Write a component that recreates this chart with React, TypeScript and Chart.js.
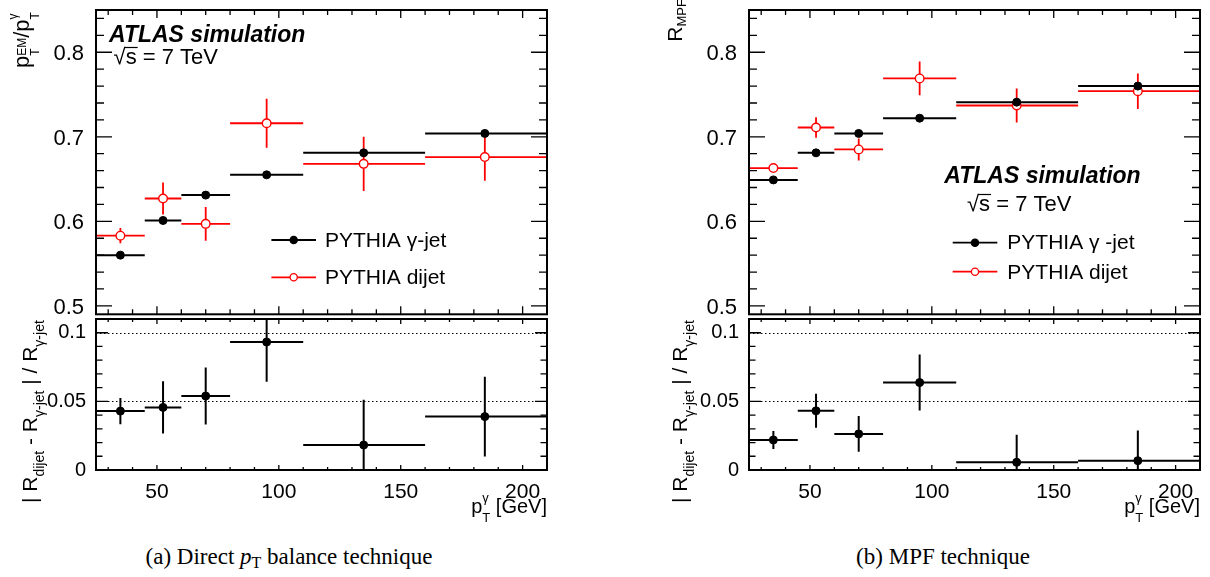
import React, { useEffect, useRef } from "react";
import { Chart, registerables } from "chart.js";

Chart.register(...registerables);

const FONT = "'Liberation Sans', Arial, Helvetica, sans-serif";

// ---------- data ----------
const binEdges = [25, 45, 60, 80, 110, 160, 210];
const xCenters = [35, 52.5, 70, 95, 134.8, 184.5];

const ptGammaJet = [0.56, 0.601, 0.631, 0.655, 0.681, 0.704];
const ptGammaJetErr = [0.002, 0.002, 0.002, 0.002, 0.002, 0.002];
const ptDijet = [0.583, 0.627, 0.597, 0.716, 0.668, 0.676];
const ptDijetErr = [0.009, 0.019, 0.02, 0.029, 0.032, 0.028];
const ptRatio = [0.0429, 0.0456, 0.0539, 0.0932, 0.0182, 0.0389];
const ptRatioErr = [0.0095, 0.019, 0.0207, 0.029, 0.033, 0.029];

const mpfGammaJet = [0.649, 0.681, 0.704, 0.722, 0.741, 0.76];
const mpfGammaJetErr = [0.002, 0.002, 0.002, 0.002, 0.002, 0.002];
const mpfDijet = [0.663, 0.711, 0.685, 0.769, 0.737, 0.754];
const mpfDijetErr = [0.004, 0.012, 0.013, 0.02, 0.02, 0.021];
const mpfRatio = [0.0219, 0.0431, 0.0263, 0.0637, 0.0056, 0.0068];
const mpfRatioErr = [0.0066, 0.0124, 0.013, 0.0204, 0.02, 0.022];

const xTickLabels = [50, 100, 150, 200];
const topYTickLabels = [0.5, 0.6, 0.7, 0.8];
const bottomYTickLabels = [0, 0.05, 0.1];
const ratioRefLines = [0.05, 0.1];

const labelGammaJetA = "PYTHIA γ-jet";
const labelGammaJetB = "PYTHIA γ -jet";
const labelDijet = "PYTHIA dijet";

// ---------- helpers ----------
type Part = { t: string; s: number; dy?: number; keep?: boolean; style?: string };

function richWidth(ctx: CanvasRenderingContext2D, parts: Part[]) {
  let w = 0;
  let kept = 0;
  for (const p of parts) {
    ctx.font = `${p.style ?? ""} ${p.s}px ${FONT}`;
    const pw = ctx.measureText(p.t).width;
    if (p.keep) kept = pw;
    else {
      w += Math.max(pw, kept);
      kept = 0;
    }
  }
  return w;
}

function drawRich(
  ctx: CanvasRenderingContext2D,
  parts: Part[],
  x: number,
  y: number,
  rotate = false,
  align: "left" | "right" = "left"
) {
  ctx.save();
  ctx.translate(x, y);
  if (rotate) ctx.rotate(-Math.PI / 2);
  const w = richWidth(ctx, parts);
  let cx = align === "right" ? -w : 0;
  let kept = 0;
  ctx.textAlign = "left";
  ctx.textBaseline = "alphabetic";
  ctx.fillStyle = "#000";
  for (const p of parts) {
    ctx.font = `${p.style ?? ""} ${p.s}px ${FONT}`;
    const pw = ctx.measureText(p.t).width;
    ctx.fillText(p.t, cx, p.dy ?? 0);
    if (p.keep) kept = pw;
    else {
      cx += Math.max(pw, kept);
      kept = 0;
    }
  }
  ctx.restore();
}

function drawAtlas(ctx: CanvasRenderingContext2D, x: number, y: number, sx: number, sy: number) {
  ctx.save();
  ctx.fillStyle = "#000";
  ctx.textAlign = "left";
  ctx.textBaseline = "alphabetic";
  ctx.font = `italic bold 23px ${FONT}`;
  ctx.fillText("ATLAS simulation", x, y);
  ctx.font = `22px ${FONT}`;
  ctx.fillText("√", sx, sy);
  const w1 = ctx.measureText("√").width;
  ctx.fillText("s = 7 TeV", sx + w1, sy);
  const ws = ctx.measureText("s").width;
  ctx.strokeStyle = "#000";
  ctx.lineWidth = 1.2;
  ctx.beginPath();
  ctx.moveTo(sx + w1 - 1, sy - 16.5);
  ctx.lineTo(sx + w1 + ws + 1, sy - 16.5);
  ctx.stroke();
  ctx.restore();
}

function drawLegend(
  ctx: CanvasRenderingContext2D,
  chart: Chart,
  x0: number,
  x1: number,
  ys: number[],
  textX: number,
  textYs: number[]
) {
  chart.data.datasets.forEach((ds: any, i: number) => {
    const y = ys[i];
    ctx.save();
    ctx.strokeStyle = ds.pointBorderColor;
    ctx.lineWidth = 1.8;
    ctx.beginPath();
    ctx.moveTo(x0, y);
    ctx.lineTo(x1, y);
    ctx.stroke();
    ctx.beginPath();
    ctx.arc((x0 + x1) / 2, y, 3.6, 0, Math.PI * 2);
    ctx.fillStyle = ds.pointBackgroundColor;
    ctx.fill();
    ctx.lineWidth = 1.3;
    ctx.stroke();
    ctx.fillStyle = "#000";
    ctx.font = `21px ${FONT}`;
    ctx.textAlign = "left";
    ctx.textBaseline = "alphabetic";
    ctx.fillText(ds.label, textX, textYs[i]);
    ctx.restore();
  });
}

// ---------- panel specs ----------
interface Spec {
  x: number;
  y: number;
  w: number;
  h: number;
  area: { left: number; top: number; right: number; bottom: number };
  kind: "top" | "bottom";
  yMin: number;
  yMax: number;
  yTicks: number[];
  yMajor: number;
  yMinor: number;
  yLen: [number, number];
  xLen: [number, number];
  labelFont: number;
  labelPad: number;
  labelOffset: number;
  refLines: number[];
  datasets: any[];
  decorate: (ctx: CanvasRenderingContext2D, chart: Chart) => void;
}

function gjSet(label: string, vals: number[], errs: number[]) {
  return {
    label,
    data: xCenters.map((x, i) => ({ x, y: vals[i] })),
    errY: errs,
    errColor: "#000",
    errWidth: 2,
    pointRadius: 4,
    pointBorderWidth: 1,
    pointBackgroundColor: "#000",
    pointBorderColor: "#000",
    borderColor: "#000",
    backgroundColor: "#000",
    showLine: false,
  };
}

function djSet(label: string, vals: number[], errs: number[]) {
  return {
    label,
    data: xCenters.map((x, i) => ({ x, y: vals[i] })),
    errY: errs,
    errColor: "#ff0000",
    errWidth: 1.8,
    pointRadius: 4.3,
    pointBorderWidth: 1.4,
    pointBackgroundColor: "#ffffff",
    pointBorderColor: "#ff0000",
    borderColor: "#ff0000",
    backgroundColor: "#ffffff",
    showLine: false,
  };
}

const ratioTitle: Part[] = [
  { t: "| R", s: 21 },
  { t: "dijet", s: 14, dy: 7 },
  { t: " - R", s: 21 },
  { t: "γ-jet", s: 14, dy: 7 },
  { t: " | / R", s: 21 },
  { t: "γ-jet", s: 14, dy: 7 },
];

const xTitle: Part[] = [
  { t: "p", s: 20 },
  { t: "T", s: 13, dy: 9, keep: true },
  { t: "γ", s: 13, dy: -11 },
  { t: " [GeV]", s: 20 },
];

const specs: Spec[] = [
  {
    x: 0, y: 0, w: 560, h: 320,
    area: { left: 96, top: 10, right: 547, bottom: 319 },
    kind: "top",
    yMin: 0.49, yMax: 0.85, yTicks: topYTickLabels, yMajor: 0.1, yMinor: 0.02,
    yLen: [16, 8], xLen: [8, 5], labelFont: 22, labelPad: 4, labelOffset: 2,
    refLines: [],
    datasets: [gjSet(labelGammaJetA, ptGammaJet, ptGammaJetErr), djSet(labelDijet, ptDijet, ptDijetErr)],
    decorate: (ctx, chart) => {
      drawAtlas(ctx, 109, 41.7, 113.6, 64);
      drawLegend(ctx, chart, 271.4, 316, [240, 277.3], 325, [247, 284]);
      drawRich(
        ctx,
        [
          { t: "p", s: 22 },
          { t: "T", s: 12, dy: 10, keep: true },
          { t: "EM", s: 12, dy: -3 },
          { t: "/", s: 22 },
          { t: "p", s: 22 },
          { t: "T", s: 12, dy: 10, keep: true },
          { t: "γ", s: 12, dy: -12 },
        ],
        29, 68, true
      );
    },
  },
  {
    x: 0, y: 300, w: 560, h: 230,
    area: { left: 96, top: 19, right: 547, bottom: 170 },
    kind: "bottom",
    yMin: 0, yMax: 0.11, yTicks: bottomYTickLabels, yMajor: 0.05, yMinor: 0.01,
    yLen: [12, 6.5], xLen: [5, 3], labelFont: 20, labelPad: 2, labelOffset: 0,
    refLines: ratioRefLines,
    datasets: [gjSet("ratio", ptRatio, ptRatioErr)],
    decorate: (ctx) => {
      drawRich(ctx, ratioTitle, 36.5, 203, true);
      drawRich(ctx, xTitle, 547, 213, false, "right");
    },
  },
  {
    x: 640, y: 0, w: 570, h: 320,
    area: { left: 109, top: 10, right: 560, bottom: 319 },
    kind: "top",
    yMin: 0.49, yMax: 0.85, yTicks: topYTickLabels, yMajor: 0.1, yMinor: 0.02,
    yLen: [16, 8], xLen: [8, 5], labelFont: 22, labelPad: 4, labelOffset: 2,
    refLines: [],
    datasets: [gjSet(labelGammaJetB, mpfGammaJet, mpfGammaJetErr), djSet(labelDijet, mpfDijet, mpfDijetErr)],
    decorate: (ctx, chart) => {
      drawAtlas(ctx, 304.3, 183.3, 327, 211);
      drawLegend(ctx, chart, 312.7, 357.3, [242.7, 271.7], 367.3, [248.5, 278.8]);
      drawRich(
        ctx,
        [
          { t: "R", s: 21 },
          { t: "MPF", s: 13, dy: 4 },
        ],
        41.7, 41.7, true
      );
    },
  },
  {
    x: 640, y: 300, w: 570, h: 230,
    area: { left: 109, top: 19, right: 560, bottom: 170 },
    kind: "bottom",
    yMin: 0, yMax: 0.11, yTicks: bottomYTickLabels, yMajor: 0.05, yMinor: 0.01,
    yLen: [12, 6.5], xLen: [5, 3], labelFont: 20, labelPad: 2, labelOffset: 0,
    refLines: ratioRefLines,
    datasets: [gjSet("ratio", mpfRatio, mpfRatioErr)],
    decorate: (ctx) => {
      drawRich(ctx, ratioTitle, 47, 203, true);
      drawRich(ctx, xTitle, 560, 213, false, "right");
    },
  },
];

// ---------- plugin ----------
function rootPlugin(spec: Spec) {
  return {
    id: "rootFrame",
    beforeDatasetsDraw(chart: any) {
      const ctx: CanvasRenderingContext2D = chart.ctx;
      const { left, right, top, bottom } = chart.chartArea;
      const xs = chart.scales.x;
      const ys = chart.scales.y;
      ctx.save();
      ctx.beginPath();
      ctx.rect(left, top, right - left, bottom - top);
      ctx.clip();
      // dotted reference lines
      ctx.strokeStyle = "#000";
      ctx.lineWidth = 1;
      ctx.setLineDash([1.5, 2.5]);
      for (const v of spec.refLines) {
        const py = Math.round(ys.getPixelForValue(v)) + 0.5;
        ctx.beginPath();
        ctx.moveTo(left, py);
        ctx.lineTo(right, py);
        ctx.stroke();
      }
      ctx.setLineDash([]);
      // error bars (draw dijet first, gamma-jet on top)
      const dss = chart.data.datasets.slice().reverse();
      for (const ds of dss) {
        ctx.strokeStyle = ds.errColor;
        ctx.lineWidth = ds.errWidth;
        ds.data.forEach((pt: any, i: number) => {
          const px = xs.getPixelForValue(pt.x);
          const py = ys.getPixelForValue(pt.y);
          ctx.beginPath();
          ctx.moveTo(xs.getPixelForValue(binEdges[i]), py);
          ctx.lineTo(xs.getPixelForValue(binEdges[i + 1]), py);
          ctx.moveTo(px, ys.getPixelForValue(pt.y - ds.errY[i]));
          ctx.lineTo(px, ys.getPixelForValue(pt.y + ds.errY[i]));
          ctx.stroke();
        });
      }
      ctx.restore();
    },
    afterDatasetsDraw(chart: any) {
      const ctx: CanvasRenderingContext2D = chart.ctx;
      const { left, right, top, bottom } = chart.chartArea;
      const xs = chart.scales.x;
      const ys = chart.scales.y;
      ctx.save();
      ctx.strokeStyle = "#000";
      // ticks
      ctx.lineWidth = 1.3;
      const k0 = Math.ceil(spec.yMin / spec.yMinor - 1e-6);
      const k1 = Math.floor(spec.yMax / spec.yMinor + 1e-6);
      for (let k = k0; k <= k1; k++) {
        const v = k * spec.yMinor;
        const r = v / spec.yMajor;
        const major = Math.abs(r - Math.round(r)) < 1e-6;
        const len = major ? spec.yLen[0] : spec.yLen[1];
        const py = ys.getPixelForValue(v);
        if (py < top + 1 || py > bottom - 1) continue;
        ctx.beginPath();
        ctx.moveTo(left, py);
        ctx.lineTo(left + len, py);
        ctx.moveTo(right, py);
        ctx.lineTo(right - len, py);
        ctx.stroke();
      }
      for (let v = 30; v <= 200; v += 10) {
        const major = v % 50 === 0;
        const len = major ? spec.xLen[0] : spec.xLen[1];
        const px = xs.getPixelForValue(v);
        ctx.beginPath();
        ctx.moveTo(px, bottom);
        ctx.lineTo(px, bottom - len);
        ctx.moveTo(px, top);
        ctx.lineTo(px, top + len);
        ctx.stroke();
      }
      // frame
      ctx.lineWidth = 2;
      ctx.strokeRect(left, top, right - left, bottom - top);
      ctx.restore();
      ctx.save();
      spec.decorate(ctx, chart);
      ctx.restore();
    },
  };
}

function buildConfig(spec: Spec): any {
  const { area, w, h } = spec;
  const isBottom = spec.kind === "bottom";
  return {
    type: "scatter",
    data: { datasets: spec.datasets },
    plugins: [rootPlugin(spec)],
    options: {
      responsive: false,
      maintainAspectRatio: false,
      animation: false,
      events: [],
      layout: {
        padding: {
          left: 0,
          top: area.top,
          right: w - area.right,
          bottom: isBottom ? 0 : h - area.bottom,
        },
      },
      plugins: {
        legend: { display: false },
        tooltip: { enabled: false },
        title: { display: false },
      },
      scales: {
        x: {
          type: "linear",
          min: binEdges[0],
          max: binEdges[binEdges.length - 1],
          bounds: "data",
          display: isBottom,
          grid: { display: false },
          border: { display: false },
          ticks: {
            color: "#000",
            font: { family: FONT, size: 21 },
            padding: 2,
            maxRotation: 0,
            minRotation: 0,
            autoSkip: false,
            callback: (v: number) => String(v),
          },
          afterBuildTicks: (s: any) => {
            s.ticks = xTickLabels.map((v) => ({ value: v }));
          },
          afterFit: (s: any) => {
            if (isBottom) s.height = h - area.bottom;
            s.paddingLeft = 0;
            s.paddingRight = 0;
            s.paddingTop = 0;
            s.paddingBottom = 0;
          },
        },
        y: {
          type: "linear",
          min: spec.yMin,
          max: spec.yMax,
          bounds: "data",
          grid: { display: false },
          border: { display: false },
          ticks: {
            color: "#000",
            font: { family: FONT, size: spec.labelFont },
            padding: spec.labelPad,
            labelOffset: spec.labelOffset,
            autoSkip: false,
            callback: (v: number) => String(v),
          },
          afterBuildTicks: (s: any) => {
            s.ticks = spec.yTicks.map((v) => ({ value: v }));
          },
          afterFit: (s: any) => {
            s.width = area.left;
            s.paddingTop = 0;
            s.paddingBottom = 0;
            s.paddingLeft = 0;
            s.paddingRight = 0;
          },
        },
      },
    },
  };
}

function ChartCanvas({ spec }: { spec: Spec }) {
  const ref = useRef<HTMLCanvasElement | null>(null);
  useEffect(() => {
    if (!ref.current) return;
    const chart = new Chart(ref.current, buildConfig(spec));
    return () => chart.destroy();
  }, [spec]);
  return (
    <canvas
      ref={ref}
      width={spec.w}
      height={spec.h}
      style={{ position: "absolute", left: spec.x, top: spec.y, width: spec.w, height: spec.h }}
    />
  );
}

const captionStyle: React.CSSProperties = {
  position: "absolute",
  top: 545,
  width: 400,
  textAlign: "center",
  fontFamily: "'Liberation Serif', 'Times New Roman', serif",
  fontSize: 23,
  lineHeight: "23px",
  color: "#000",
  whiteSpace: "nowrap",
};

export default function App() {
  return (
    <div
      style={{
        position: "absolute",
        left: 0,
        top: 0,
        width: 1210,
        height: 577,
        background: "#fff",
        overflow: "hidden",
      }}
    >
      {specs.map((s, i) => (
        <ChartCanvas key={i} spec={s} />
      ))}
      <div style={{ ...captionStyle, left: 289 - 200 }}>
        (a) Direct <i>p</i>
        <span style={{ fontSize: 16, position: "relative", top: 4 }}>T</span> balance technique
      </div>
      <div style={{ ...captionStyle, left: 943 - 200 }}>(b) MPF technique</div>
    </div>
  );
}
